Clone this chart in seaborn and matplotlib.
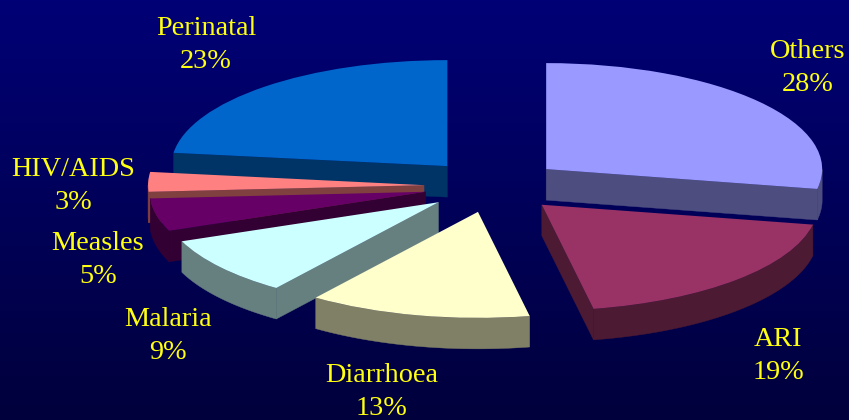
import numpy as np
import matplotlib
matplotlib.use("Agg")
import matplotlib.pyplot as plt
from matplotlib.patches import Polygon
import seaborn as sns

causes = ["Others", "ARI", "Diarrhoea", "Malaria", "Measles", "HIV/AIDS", "Perinatal"]
shares = [28, 19, 13, 9, 5, 3, 23]
top_hex = ["#9999ff", "#993366", "#ffffcc", "#ccffff", "#660066", "#ff8080", "#0066cc"]

# figure geometry in pixels
W, H = 849, 420
CX, CY, RX, RY = 493, 186, 276, 106
DEPTH = 31 / RY
PULL = 0.25
label_xy = {"Others": (808, 68), "ARI": (778, 356), "Diarrhoea": (382, 392),
            "Malaria": (168, 336), "Measles": (98, 260), "HIV/AIDS": (73, 186),
            "Perinatal": (206, 45)}

sns.set_theme(style="white")
plt.rcParams["font.family"] = ["Liberation Serif", "DejaVu Serif"]
palette = sns.color_palette(top_hex)
# the side walls are the top colours at half brightness
walls = [tuple(0.5 * np.array(c)) for c in palette]

fig = plt.figure(figsize=(W / 100, H / 100), dpi=100)
ax = fig.add_axes([0, 0, 1, 1])

wedges, _ = ax.pie(shares, colors=palette, startangle=90, counterclock=False,
                   explode=[PULL] * len(shares), radius=1, frame=True,
                   wedgeprops={"linewidth": 0})

ax.set_aspect("auto")
xlim = (-CX / RX, (W - CX) / RX)
ylim = (-(H - CY) / RY, CY / RY)
ax.set_xlim(*xlim)
ax.set_ylim(*ylim)
ax.set_xticks([])
ax.set_yticks([])
for s in ax.spines.values():
    s.set_visible(False)

# vertical background ramp
ramp = np.linspace(0, 1, 256)[:, None]
bg = np.zeros((256, 1, 3))
bg[..., 2] = (118 - 58 * ramp) / 255
ax.imshow(bg, extent=[*xlim, *ylim], origin="upper", aspect="auto", zorder=0)


def extrude(pts):
    """Closed wall polygon: an upper edge plus its copy shifted down by the depth."""
    pts = np.asarray(pts)
    return np.vstack([pts, (pts - [0, DEPTH])[::-1]])


# paint from the back of the pie to the front
order = ["Others", "Perinatal", "HIV/AIDS", "Measles", "ARI", "Malaria", "Diarrhoea"]
z = 2
for name in order:
    i = causes.index(name)
    w = wedges[i]
    c = np.array(w.center)
    t1, t2 = w.theta1, w.theta2
    faces = []
    for t, visible in ((t1, np.cos(np.radians(t1)) > 1e-6), (t2, np.cos(np.radians(t2)) < -1e-6)):
        if visible:
            a = np.radians(t)
            faces.append(extrude([c, c + [np.cos(a), np.sin(a)]]))
    th = np.radians(np.linspace(t1, t2, 240))
    lower = th[np.sin(th) < 0]
    if lower.size > 1:
        faces.append(extrude(c + np.column_stack([np.cos(lower), np.sin(lower)])))
    for f in faces:
        ax.add_patch(Polygon(f, closed=True, facecolor=walls[i], edgecolor=walls[i],
                             linewidth=0.3, zorder=z))
    w.set_zorder(z + 1)
    z += 2

for name, share in zip(causes, shares):
    x, y = label_xy[name]
    ax.text(x / W, 1 - y / H, f"{name}\n{share}%", transform=ax.transAxes, ha="center",
            va="center", color="#ffff10", fontsize=20.3, linespacing=1.47, zorder=30)

fig.savefig("out.png", dpi=100)
